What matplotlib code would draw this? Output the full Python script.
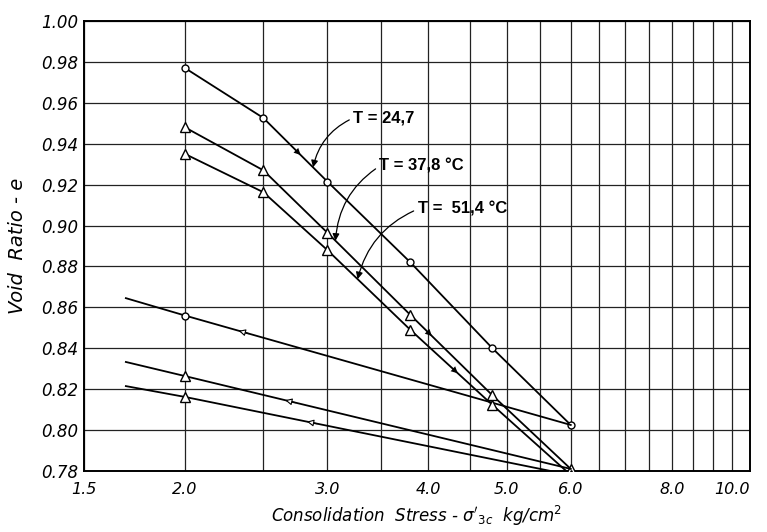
import matplotlib
matplotlib.use("Agg")
import matplotlib.pyplot as plt
import numpy as np
from matplotlib.ticker import NullFormatter

# loading branches (kg/cm2 vs void ratio)
stress = [2.0, 2.5, 3.0, 3.8, 4.8, 6.0]
e_247 = [0.977, 0.9526, 0.9215, 0.882, 0.840, 0.8025]
e_378 = [0.948, 0.927, 0.8965, 0.8563, 0.817, 0.781]
e_514 = [0.935, 0.9163, 0.888, 0.849, 0.8123, 0.778]

# unloading branches
stress_un = [6.0, 2.0, 1.69]
eu_247 = [0.8025, 0.856, 0.8645]
eu_378 = [0.781, 0.8264, 0.8333]
eu_514 = [0.778, 0.8162, 0.8215]

# where the little direction arrows sit on each branch
arrow_load = [2.78, 4.04, 4.35]
arrow_unload = [2.33, 2.66, 2.83]

labels = ["T = 24,7", "T = 37,8 °C", "T =  51,4 °C"]
label_xy = [(3.23, 0.9526), (3.48, 0.929), (3.88, 0.908)]
label_tip = [2.88, 3.07, 3.27]

xticks = [1.5, 2.0, 3.0, 4.0, 5.0, 6.0, 8.0, 10.0]
xticklabels = ["1.5", "2.0", "3.0", "4.0", "5.0", "6.0", "8.0", "10.0"]
yticks = np.arange(0.78, 1.001, 0.02)

fig = plt.figure(figsize=(7.67, 5.32), dpi=100)
ax = fig.add_axes([0.1095, 0.1147, 0.8685, 0.8458])

ax.set_xscale("log")
ax.set_xlim(1.5, 10.0)
ax.set_ylim(0.78, 1.00)

loads = [e_247, e_378, e_514]
unloads = [eu_247, eu_378, eu_514]
marks = ["o", "^", "^"]
msz = [5, 7, 7]

for ld, ul, m, s in zip(loads, unloads, marks, msz):
    ax.plot(stress, ld, color="k", lw=1.3, marker=m, ms=s,
            mfc="white", mec="k", mew=1.0, zorder=3)
    ax.plot(stress_un, ul, color="k", lw=1.3, zorder=3)
    ax.plot(stress_un[1:2], ul[1:2], ls="none", marker=m, ms=s,
            mfc="white", mec="k", mew=1.0, zorder=4)

def on_curve(x, xs, ys):
    lx = np.log10(xs)
    order = np.argsort(lx)
    return np.interp(np.log10(x), lx[order], np.array(ys)[order])

# direction arrows along the branches
for xa, ld in zip(arrow_load, loads):
    x0 = xa / 1.03
    ax.annotate("", xy=(xa, on_curve(xa, stress, ld)),
                xytext=(x0, on_curve(x0, stress, ld)),
                arrowprops=dict(arrowstyle="-|>", lw=0.01, color="k",
                                mutation_scale=12, shrinkA=0, shrinkB=0),
                zorder=5)
for xa, ul in zip(arrow_unload, unloads):
    x0 = xa * 1.03
    ax.annotate("", xy=(xa, on_curve(xa, stress_un, ul)),
                xytext=(x0, on_curve(x0, stress_un, ul)),
                arrowprops=dict(arrowstyle="-|>", lw=0.8, color="k",
                                fc="white", mutation_scale=10,
                                shrinkA=0, shrinkB=0),
                zorder=5)

# temperature labels with leaders
for txt, (tx, ty), xt, ld in zip(labels, label_xy, label_tip, loads):
    ax.annotate(txt, xy=(xt, on_curve(xt, stress, ld)), xytext=(tx, ty),
                ha="left", va="center", fontsize=12, fontweight="bold",
                family="Liberation Sans",
                arrowprops=dict(arrowstyle="-|>", lw=0.9, color="k",
                                connectionstyle="arc3,rad=0.25",
                                mutation_scale=10, shrinkA=1, shrinkB=0,
                                relpos=(0, 0.5)),
                zorder=6)

# grid
ax.set_xticks(xticks)
ax.set_xticklabels(xticklabels)
ax.set_xticks(np.arange(2.0, 10.01, 0.5), minor=True)
ax.xaxis.set_minor_formatter(NullFormatter())
ax.set_yticks(yticks)
ax.set_yticklabels(["%.2f" % v for v in yticks])
ax.grid(True, which="both", axis="x", color="#222222", lw=0.9)
ax.grid(True, which="major", axis="y", color="#222222", lw=0.9)
ax.set_axisbelow(True)
ax.tick_params(axis="both", which="both", length=0)
ax.tick_params(axis="x", pad=8, labelsize=11.5)
ax.tick_params(axis="y", pad=4, labelsize=12)
for lab in ax.get_xticklabels() + ax.get_yticklabels():
    lab.set_fontstyle("italic")
xl = ax.get_xticklabels()
xl[-1].set_horizontalalignment("right")
xl[-1].set_x(10.0)
for sp in ax.spines.values():
    sp.set_linewidth(1.4)

ax.set_ylabel("Void  Ratio - e", fontsize=14, fontstyle="italic", labelpad=10)
ax.set_xlabel(r"Consolidation  Stress - $\sigma'_{3c}$  kg/cm$^2$",
              fontsize=12, fontstyle="italic", labelpad=5)

fig.savefig("out.png", dpi=100)
plt.close(fig)
